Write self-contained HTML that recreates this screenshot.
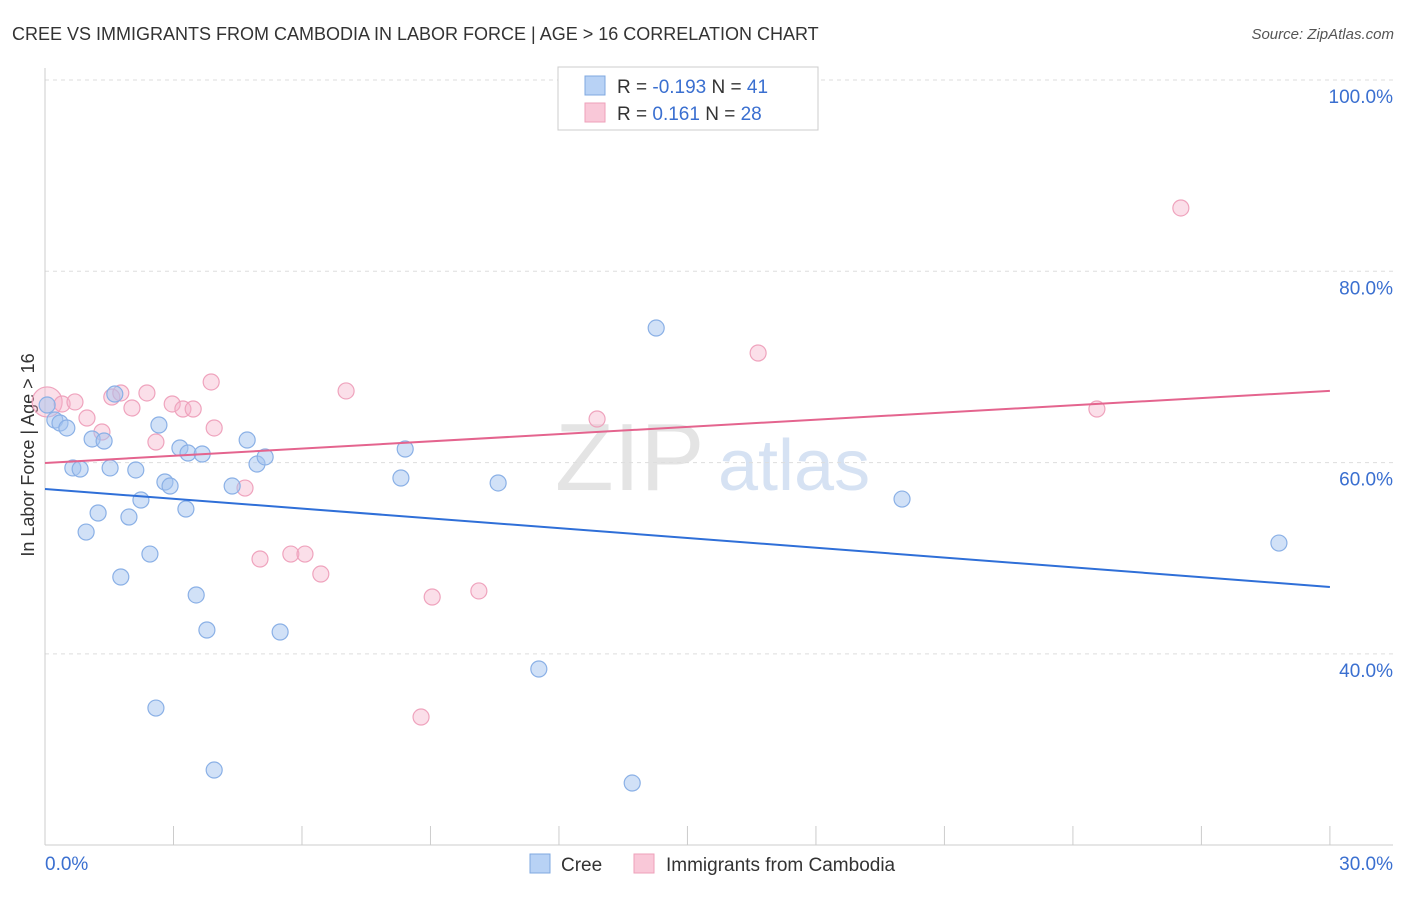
<!DOCTYPE html>
<html><head><meta charset="utf-8"><style>
body{margin:0;background:#fff;font-family:"Liberation Sans",sans-serif;}
svg text{font-family:"Liberation Sans",sans-serif;}
</style></head><body>
<svg id="c" width="1406" height="892" xmlns="http://www.w3.org/2000/svg">
<text x="12" y="40" font-size="18" fill="#333">CREE VS IMMIGRANTS FROM CAMBODIA IN LABOR FORCE | AGE &gt; 16 CORRELATION CHART</text>
<text x="1394" y="39" font-size="15" fill="#555" text-anchor="end" font-style="italic">Source: ZipAtlas.com</text>
<text x="555" y="490" font-size="96" fill="#e4e4e4" font-family="Liberation Serif">ZIP</text>
<text x="718" y="490" font-size="72" fill="#d6e2f3">atlas</text>
<text transform="translate(34,455) rotate(-90)" font-size="18" fill="#333" text-anchor="middle">In Labor Force | Age &gt; 16</text>
<g id="grid"></g><g id="marks"></g>
<g>
<rect x="558" y="67" width="260" height="63" fill="#fff" stroke="#ccc"/>
<rect x="585" y="76" width="20" height="19" fill="#b8d2f5" stroke="#7fa8e0"/>
<rect x="585" y="103" width="20" height="19" fill="#f9c8d8" stroke="#eea0ba"/>
<text x="617" y="93" font-size="19" fill="#333">R = <tspan fill="#3a6fd0">-0.193</tspan>   N = <tspan fill="#3a6fd0">41</tspan></text>
<text x="617" y="120" font-size="19" fill="#333">R =  <tspan fill="#3a6fd0"> 0.161</tspan>   N = <tspan fill="#3a6fd0">28</tspan></text>
</g>
<g>
<rect x="530" y="854" width="20" height="19" fill="#b8d2f5" stroke="#7fa8e0"/>
<text x="561" y="871" font-size="19" fill="#333">Cree</text>
<rect x="634" y="854" width="20" height="19" fill="#f9c8d8" stroke="#eea0ba"/>
<text x="666" y="871" font-size="19" fill="#333">Immigrants from Cambodia</text>
</g>
</svg>
<script>
const yTicks=[100,80,60,40];
const yTickLabels=["100.0%","80.0%","60.0%","40.0%"];
const xTickLabels=["0.0%","30.0%"];
const creeX=[0.05,0.23,0.35,0.51,0.65,0.82,0.96,1.10,1.24,1.38,1.52,1.63,1.77,1.96,2.12,2.24,2.45,2.59,2.66,2.80,2.92,3.15,3.29,3.34,3.53,3.67,3.78,3.95,4.37,4.72,4.95,5.14,5.49,8.31,8.41,10.58,11.53,13.71,14.27,20.01,28.81];
const creeY=[66.02,64.45,64.14,63.62,59.44,59.33,52.74,62.47,54.73,62.26,59.44,67.17,48.04,54.31,59.23,56.09,50.44,34.34,63.93,57.97,57.55,61.53,55.15,61.00,46.16,60.90,42.50,27.86,57.55,62.36,59.85,60.59,42.29,58.39,61.42,57.87,38.42,26.50,74.07,56.19,51.59];
const cambX=[0.05,0.40,0.70,0.98,1.33,1.56,1.77,2.03,2.38,2.59,2.97,3.22,3.46,3.88,3.95,4.67,5.02,5.74,6.07,6.44,7.03,8.78,9.04,10.13,12.89,16.65,24.56,26.52];
const cambY=[66.34,66.13,66.34,64.66,63.20,66.86,67.28,65.71,67.28,62.15,66.13,65.60,65.60,68.43,63.62,57.34,49.92,50.44,50.44,48.35,67.49,33.40,45.95,46.58,64.56,71.46,65.60,86.62];
const creeTrend=[57.24,47.0];
const cambTrend=[59.96,67.5];
const NS="http://www.w3.org/2000/svg";
const sx=v=>45+v*42.83, sy=v=>80+(100-v)*9.565;
function mk(t,a,p){const e=document.createElementNS(NS,t);for(const k in a)e.setAttribute(k,a[k]);p.appendChild(e);return e;}
const g=document.getElementById('grid'), m=document.getElementById('marks');
yTicks.forEach((t,i)=>{
 const l=mk('line',{x1:45,x2:1393,y1:sy(t),y2:sy(t),stroke:'#ddd','stroke-dasharray':'4,4'},g);
 
 
 const tx=mk('text',{x:1393,y:sy(t)+23,'font-size':19,fill:'#3a6fd0','text-anchor':'end'},g);
 tx.textContent=yTickLabels[i];
 
 
});
const ax=mk('line',{x1:45,x2:1393,y1:845,y2:845,stroke:'#ccc'},g);


const ay=mk('line',{x1:45,x2:45,y1:68,y2:845,stroke:'#ccc'},g);


for(let i=0;i<=10;i++){const t=mk('line',{x1:sx(i*3),x2:sx(i*3),y1:826,y2:845,stroke:'#ccc'},g);
 
 }
[[0,'start'],[30,'end']].forEach((d,i)=>{const t=mk('text',{x:i?1393:45,y:870,'font-size':19,fill:'#3a6fd0','text-anchor':d[1]},g);t.textContent=xTickLabels[i];
 
 });
cambX.forEach((x,i)=>{const c=mk('circle',{cx:sx(x),cy:sy(cambY[i]),r:i==0?15:8,fill:'rgba(246,176,200,0.4)',stroke:'#efa3bd','stroke-width':1.2},m);
 
 });
creeX.forEach((x,i)=>{const c=mk('circle',{cx:sx(x),cy:sy(creeY[i]),r:8,fill:'rgba(164,196,240,0.5)',stroke:'#8ab0e6','stroke-width':1.2},m);
 
 });
const l1=mk('line',{x1:sx(0),x2:sx(30),y1:sy(creeTrend[0]),y2:sy(creeTrend[1]),stroke:'#2f6fd8','stroke-width':2},m);


const l2=mk('line',{x1:sx(0),x2:sx(30),y1:sy(cambTrend[0]),y2:sy(cambTrend[1]),stroke:'#e4648e','stroke-width':2},m);


</script>
</body></html>
